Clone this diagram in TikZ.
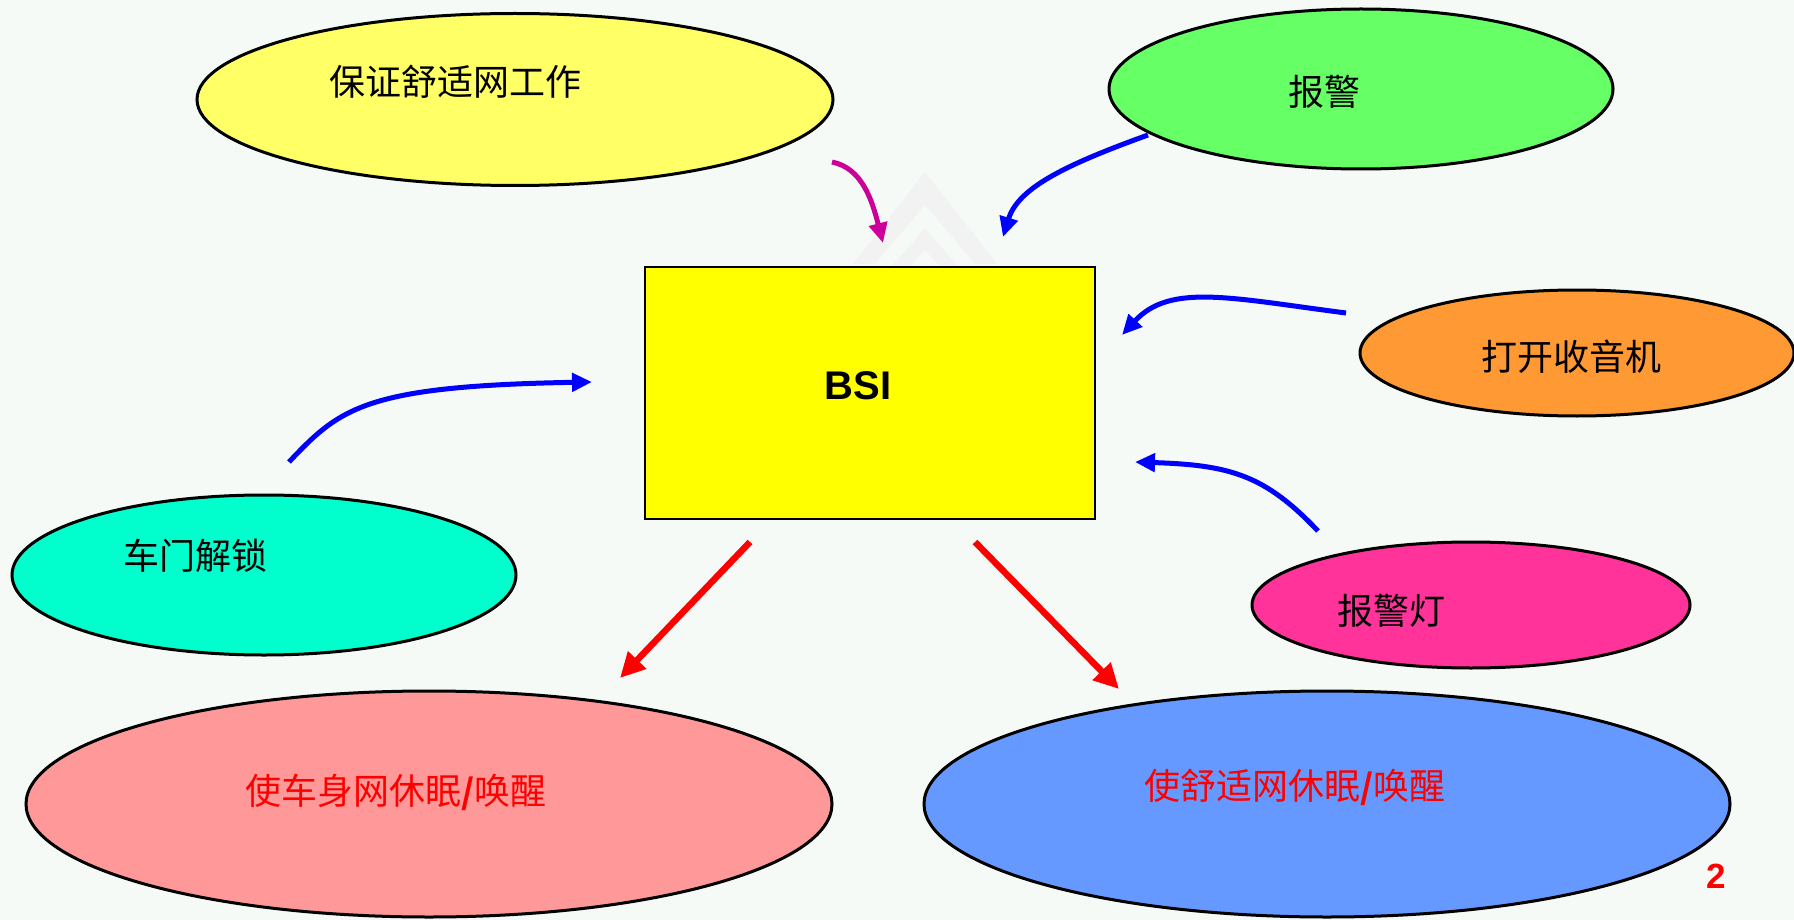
\documentclass[tikz,border=0pt]{standalone}
\usepackage{fontspec}
\setmainfont{Liberation Sans}
\newfontfamily\cjk{Noto Sans CJK SC}
\usetikzlibrary{shapes.geometric,arrows.meta}
\definecolor{bg}{RGB}{246,250,247}
\definecolor{cyellow}{RGB}{255,255,102}
\definecolor{cgreen}{RGB}{102,255,102}
\definecolor{corange}{RGB}{255,153,51}
\definecolor{cpink}{RGB}{255,51,153}
\definecolor{ccyan}{RGB}{0,255,204}
\definecolor{csalmon}{RGB}{255,153,153}
\definecolor{cblue}{RGB}{102,153,255}
\definecolor{cmag}{RGB}{204,0,153}
\definecolor{byellow}{RGB}{255,255,0}
\tikzset{
  ell/.style={ellipse, draw=black, line width=3pt, inner sep=0pt},
  lbl/.style={font=\cjk\fontsize{36}{40}\selectfont, inner sep=0pt},
  blue arrow/.style={draw=blue, line width=5pt, -{Triangle[length=20pt,width=18pt]}},
  red arrow/.style={draw=red, line width=6.5pt, -{Triangle[length=25pt,width=24pt]}},
  mag arrow/.style={draw=cmag, line width=5pt, -{Triangle[length=20pt,width=18pt]}}
}
\begin{document}
\begin{tikzpicture}[x=1pt,y=-1pt]
\fill[bg] (0,0) rectangle (1794,920);
\useasboundingbox (0,0) rectangle (1794,920);
% faint watermark chevrons
\fill[gray!10] (925,172) -- (997,264) -- (975,264) -- (925,205) -- (875,264) -- (853,264) -- cycle;
\fill[gray!10] (925,228) -- (970,280) -- (952,280) -- (925,250) -- (898,280) -- (880,280) -- cycle;
% ellipses
\node[ell, fill=cyellow, minimum width=636pt, minimum height=172pt] (e1) at (515,99.5) {};
\node[ell, fill=cgreen, minimum width=504pt, minimum height=160pt] (e2) at (1361,89) {};
\node[ell, fill=corange, minimum width=434pt, minimum height=126pt] (e3) at (1577,353) {};
\node[ell, fill=cpink, minimum width=438pt, minimum height=126pt] (e4) at (1471,605) {};
\node[ell, fill=ccyan, minimum width=504pt, minimum height=160pt] (e5) at (264,575) {};
\node[ell, fill=csalmon, minimum width=806pt, minimum height=226pt] (e6) at (429,804) {};
\node[ell, fill=cblue, minimum width=806pt, minimum height=226pt] (e7) at (1327,804) {};
% labels
\node[lbl] (t1) at (455,82) {保证舒适网工作};
\node[lbl] (t2) at (1324,92) {报警};
\node[lbl] (t3) at (1571,357) {打开收音机};
\node[lbl] (t4) at (1391,611) {报警灯};
\node[lbl] (t5) at (195,556) {车门解锁};
\node[lbl, text=red] (t6) at (396,792) {使车身网休眠{\bfseries\fontsize{34}{40}\selectfont /}唤醒};
\node[lbl, text=red] (t7) at (1295,787) {使舒适网休眠{\bfseries\fontsize{34}{40}\selectfont /}唤醒};
% BSI box
\node[draw=black, line width=1.5pt, fill=byellow, minimum width=450pt, minimum height=252pt] (bsi) at (870,393) {};
\node[font=\bfseries\fontsize{40}{44}\selectfont, inner sep=0pt] (bsit) at (858,386) {BSI};
% page number
\node[font=\bfseries\fontsize{35}{40}\selectfont, text=red, inner sep=0pt] (pg) at (1716,876) {2};
% arrow end points
\coordinate (a1s) at (832,162); \coordinate (a1e) at (883,243);
\coordinate (a2s) at (1148,135); \coordinate (a2e) at (1003,237);
\coordinate (a3s) at (1346,313); \coordinate (a3e) at (1122,335);
\coordinate (a4s) at (1318,531); \coordinate (a4e) at (1135,462);
\coordinate (a5s) at (289,462); \coordinate (a5e) at (592,382);
\coordinate (a6s) at (750,542); \coordinate (a6e) at (620,678);
\coordinate (a7s) at (975,542); \coordinate (a7e) at (1119,689);
% arrows
\draw[mag arrow] (a1s) .. controls (862,168) and (872,200) .. (a1e);
\draw[blue arrow] (a2s) .. controls (1065,165) and (1018,188) .. (a2e);
\draw[blue arrow] (a3s) .. controls (1230,298) and (1170,283) .. (a3e);
\draw[blue arrow] (a4s) .. controls (1265,475) and (1230,465) .. (a4e);
\draw[blue arrow] (a5s) .. controls (340,408) and (365,386) .. (a5e);
\draw[red arrow] (a6s) -- (a6e);
\draw[red arrow] (a7s) -- (a7e);
\end{tikzpicture}
\end{document}
